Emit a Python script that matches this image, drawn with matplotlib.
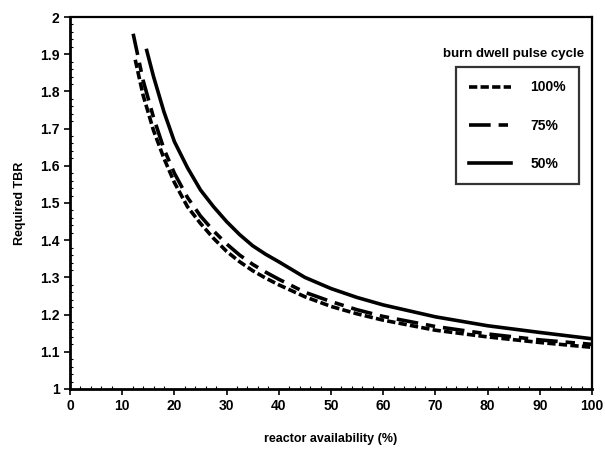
import matplotlib
matplotlib.use('Agg')
import matplotlib.pyplot as plt
from matplotlib.ticker import MultipleLocator, FormatStrFormatter

# reactor availability (%) and required TBR
avail_100 = [12.5, 14, 16, 18, 20, 22.5, 25, 27.5, 30, 32.5, 35, 37.5, 40, 45, 50, 55,
             60, 70, 80, 90, 100]
tbr_100 = [1.885, 1.79, 1.695, 1.62, 1.555, 1.49, 1.445, 1.405, 1.37, 1.342, 1.318, 1.298,
           1.28, 1.248, 1.222, 1.202, 1.185, 1.158, 1.14, 1.125, 1.112]

avail_75 = [12.1, 14, 16, 18, 20, 22.5, 25, 27.5, 30, 32.5, 35, 37.5, 40, 45, 50, 55,
            60, 70, 80, 90, 100]
tbr_75 = [1.955, 1.83, 1.73, 1.645, 1.58, 1.515, 1.465, 1.425, 1.39, 1.36, 1.335, 1.314,
          1.295, 1.26, 1.235, 1.213, 1.195, 1.168, 1.148, 1.132, 1.12]

avail_50 = [14.7, 16, 18, 20, 22.5, 25, 27.5, 30, 32.5, 35, 37.5, 40, 45, 50, 55, 60,
            70, 80, 90, 100]
tbr_50 = [1.91, 1.84, 1.745, 1.665, 1.595, 1.535, 1.49, 1.45, 1.415, 1.385, 1.362, 1.342,
          1.30, 1.27, 1.246, 1.226, 1.194, 1.17, 1.152, 1.135]

labels = ['100%', '75%', '50%']

plt.rcParams['font.family'] = ['Liberation Sans', 'DejaVu Sans']

fig = plt.figure(figsize=(6.05, 4.51), dpi=100)
ax = fig.add_axes([0.1157, 0.1375, 0.8628, 0.8248])

lw = 2.6
ax.plot(avail_100, tbr_100, color='black', lw=lw, dashes=(2.3, 0.9), label=labels[0])
ax.plot(avail_75, tbr_75, color='black', lw=lw, dashes=(6.0, 2.2, 2.6, 2.2), label=labels[1])
ax.plot(avail_50, tbr_50, color='black', lw=lw, label=labels[2])

ax.set_xlim(0, 100)
ax.set_ylim(1, 2)
ax.xaxis.set_major_locator(MultipleLocator(10))
ax.xaxis.set_minor_locator(MultipleLocator(2))
ax.yaxis.set_major_locator(MultipleLocator(0.1))
ax.yaxis.set_minor_locator(MultipleLocator(0.02))
ax.yaxis.set_major_formatter(FormatStrFormatter('%g'))
ax.tick_params(which='major', direction='out', length=4, width=1.2, labelsize=10)
ax.tick_params(which='minor', direction='in', length=2, width=0.8)
for lab in ax.get_xticklabels() + ax.get_yticklabels():
    lab.set_fontweight('bold')

for side in ['left', 'bottom']:
    ax.spines[side].set_linewidth(2.0)
for side in ['top', 'right']:
    ax.spines[side].set_linewidth(1.6)

ax.set_xlabel('reactor availability (%)', fontsize=9, fontweight='bold', labelpad=14)
ax.set_ylabel('Required TBR', fontsize=9, fontweight='bold', labelpad=10)

ax.text(0.985, 0.9, 'burn dwell pulse cycle', transform=ax.transAxes, ha='right',
        va='center', fontsize=9.5, fontweight='bold')
leg = ax.legend(loc='upper right', bbox_to_anchor=(0.975, 0.865), frameon=True,
                fancybox=False, edgecolor='black', handlelength=3.0, labelspacing=1.75,
                borderpad=0.95, handletextpad=1.4, borderaxespad=0.0,
                prop={'size': 10, 'weight': 'bold'})
leg.get_frame().set_linewidth(1.6)

fig.savefig('out.png', dpi=100)
